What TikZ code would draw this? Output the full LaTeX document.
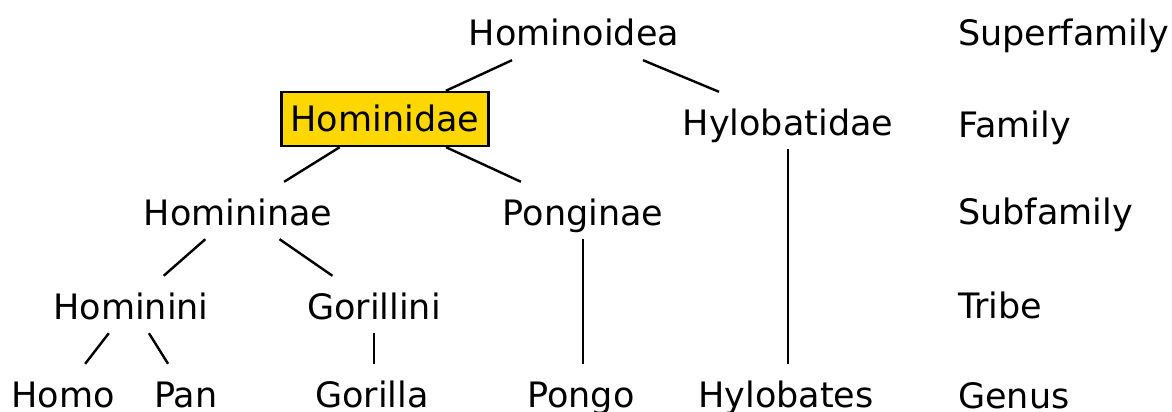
\documentclass[tikz,border=0pt]{standalone}
\usepackage{fontspec}
\setmainfont{DejaVu Sans}
\usepackage{tikz}
\usetikzlibrary{positioning}
\tikzset{every node/.style={font=\fontsize{17.5}{21}\selectfont}}
\definecolor{gold}{HTML}{FFD700}

\begin{document}
\begin{tikzpicture}[x=0.5pt, y=-0.5pt, line width=1.2pt,
    taxon/.style={anchor=base, inner xsep=2pt, inner ysep=4.5pt, text height=16.5pt, text depth=2pt},
    highlight/.style={taxon, draw, fill=gold, inner xsep=4.5pt, inner ysep=5pt, text height=14.5pt, text depth=2.5pt},
    rank/.style={anchor=base west, inner sep=0pt}]
        \useasboundingbox (0,0) rectangle (1172,412);
        % taxa
        \node[taxon] (hominoidea) at (574,46) {Hominoidea};
        \node[highlight] (hominidae) at (385,131) {Hominidae};
        \node[taxon] (hylobatidae) at (788,135) {Hylobatidae};
        \node[taxon] (homininae) at (238,225) {Homininae};
        \node[taxon] (ponginae) at (583,225) {Ponginae};
        \node[taxon] (hominini) at (131,319) {Hominini};
        \node[taxon] (gorillini) at (374,319) {Gorillini};
        \node[taxon] (homo) at (63,407) {Homo};
        \node[taxon] (pan) at (186,407) {Pan};
        \node[taxon] (gorilla) at (372,407) {Gorilla};
        \node[taxon] (pongo) at (581,407) {Pongo};
        \node[taxon] (hylobates) at (786,407) {Hylobates};
        % ranks
        \node[rank] (superfamily) at (957,46) {Superfamily};
        \node[rank] (family) at (957,137) {Family};
        \node[rank] (subfamily) at (957,224) {Subfamily};
        \node[rank] (tribe) at (957,318) {Tribe};
        \node[rank] (genus) at (957,408) {Genus};
        % links
        \draw (hominoidea) -- (hominidae);
        \draw (hominoidea) -- (hylobatidae);
        \draw (hominidae) -- (homininae);
        \draw (hominidae) -- (ponginae);
        \draw (hylobatidae) -- (hylobatidae |- hylobates.north);
        \draw (homininae) -- (hominini);
        \draw (homininae) -- (gorillini);
        \draw (ponginae) -- (ponginae |- pongo.north);
        \draw (hominini) -- (homo);
        \draw (hominini) -- (pan);
        \draw (gorillini) -- (gorillini |- gorilla.north);
      \end{tikzpicture}
\end{document}
